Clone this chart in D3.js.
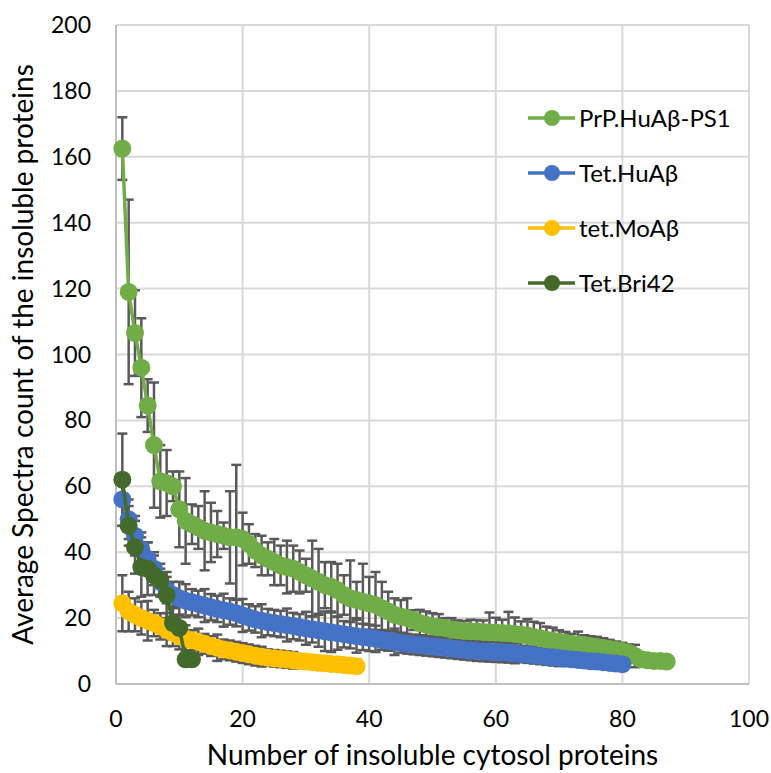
<!DOCTYPE html>
<meta charset="utf-8">
<style>
  body { margin: 0; background: #fff; }
  text { font-family: Lato, "Open Sans", sans-serif; fill: #000; }
  .tick-label { font-size: 23px; }
  .axis-title { font-size: 28px; }
  .legend-text { font-size: 24px; }
</style>
<body>
<script src="https://cdn.jsdelivr.net/npm/d3@7"></script>
<script>

// ---- data ----
var prpVals = [162.5, 119, 106.5, 96, 84.5, 72.5, 61.5, 61, 60, 53,
  49.5, 48.5, 47.5, 46.5, 46, 45.5, 45, 44.5, 44.5, 44,
  42.5, 40.5, 39, 38, 37, 36, 35.5, 35, 34, 33,
  32, 31, 30, 29.5, 28.5, 27, 26, 25.5, 25, 24.5,
  24, 23, 22, 21, 20.5, 20, 19.4, 18.5, 18, 17.5,
  17.2, 17, 16.5, 16.3, 16.1, 16, 15.9, 15.8, 15.7, 15.6,
  15.5, 15.4, 15.2, 15, 14.7, 14.3, 13.9, 13.4, 13.1, 12.8,
  12.5, 12.2, 12, 11.8, 11.5, 11.2, 10.9, 10.6, 10.3, 10,
  9.5, 8.5, 7.5, 7.2, 7, 7, 6.8];
var prpErr = [9.5, 28, 13, 15, 8, 19, 11, 10, 4.5, 11.5,
  13, 6, 6.5, 12, 9, 7, 4, 14, 22, 8,
  6, 5, 6, 5, 7, 6, 8, 7, 6.5, 5,
  11.5, 10, 7, 7.5, 8, 6, 11.5, 5.5, 11.5, 8,
  10, 8, 6, 5, 5, 6, 3, 4, 4, 4,
  4, 3, 3.5, 3, 3, 3.5, 3.5, 3.5, 6, 4.5,
  4, 6.5, 5, 4, 5, 4.6, 4.6, 4, 4, 3.5,
  3.3, 3, 3.9, 3, 3, 3.1, 3, 2.8, 2.6, 2.5,
  2.5, 3.4, 1.5, 1, 0.8, 0.8, 0.8];

var huVals = [56, 50, 45, 41, 38, 35, 31, 28.5, 27, 26,
  25.3, 24.8, 24.3, 23.8, 23.3, 22.8, 22.4, 22, 21.5, 20.8,
  20.2, 19.6, 19.2, 18.8, 18.5, 18.2, 17.9, 17.6, 17.2, 16.9,
  16.6, 16.3, 16, 15.7, 15.4, 15.1, 14.8, 14.5, 14.3, 14,
  13.7, 13.4, 13.1, 12.8, 12.5, 12.2, 12, 11.8, 11.6, 11.4,
  11.2, 11, 10.8, 10.6, 10.4, 10.2, 10, 9.9, 9.8, 9.7,
  9.6, 9.5, 9.3, 9.1, 8.9, 8.7, 8.5, 8.3, 8.1, 7.9,
  7.7, 7.5, 7.3, 7.1, 6.9, 6.8, 6.6, 6.4, 6.2, 6];
var huErr = [8, 6, 6, 5, 5, 5, 4, 4, 4, 5,
  5, 4, 4, 5, 4, 4, 5, 4, 4, 5,
  4, 4, 5, 4, 4, 4, 5, 4, 4, 5,
  4, 5, 6, 6, 5, 4, 4, 5, 4, 4,
  4, 3, 3, 4, 3, 3, 3, 3, 3, 3,
  3, 3, 3, 3, 3, 3, 3, 3, 3, 3,
  3, 3, 3, 2.5, 2.5, 2.5, 2.5, 2.5, 2.5, 2.5,
  2, 2, 2, 2, 2, 2, 2, 2, 2, 2];

var moVals = [24.5, 22, 21, 20, 19.2, 18.5, 17.5, 16.5, 15.5, 14.5,
  13.8, 13.3, 12.8, 12.2, 11.5, 11, 10.5, 10.2, 9.8, 9.4,
  9, 8.6, 8.3, 8, 7.8, 7.6, 7.4, 7.2, 7, 6.8,
  6.6, 6.4, 6.3, 6.1, 6, 5.8, 5.6, 5.4];
var moErr = [8.5, 6, 5, 5, 6, 4, 4, 5, 4, 4,
  4, 3, 4, 3, 3, 4, 3, 3, 3, 3,
  3, 3, 3, 2.5, 2.5, 2.5, 2.5, 2.5, 2, 2,
  2, 2, 2, 2, 2, 2, 2, 2];

var briVals = [62, 48, 41.5, 35.5, 35, 33, 31.5, 27, 18.5, 17, 7.5, 7.5];
var briErr = [14, 6, 8, 9, 8, 6, 5, 7, 5, 4, 1, 1];

var seriesNames = ["PrP.HuA\u03b2-PS1", "Tet.HuA\u03b2", "tet.MoA\u03b2", "Tet.Bri42"];
var seriesColors = ["#70ad47", "#4472c4", "#ffc000", "#43692b"];
var xTicks = [0, 20, 40, 60, 80, 100];
var yTicks = [0, 20, 40, 60, 80, 100, 120, 140, 160, 180, 200];

// build series table
function makeSeries(vals, errs) {
  return vals.map(function (v, i) { return { x: i + 1, y: v, e: errs[i] }; });
}
var allSeries = [
  makeSeries(prpVals, prpErr),
  makeSeries(huVals, huErr),
  makeSeries(moVals, moErr),
  makeSeries(briVals, briErr)
];

// ---- layout ----
var W = 771, H = 773;
var plot = { left: 116, right: 749, top: 25, bottom: 684 };

var x = d3.scaleLinear().domain([0, 100]).range([plot.left, plot.right]);
var y = d3.scaleLinear().domain([0, 200]).range([plot.bottom, plot.top]);

var svg = d3.select("body").append("svg")
  .attr("width", W)
  .attr("height", H);

// gridlines
svg.append("g").selectAll("line.hgrid")
  .data(yTicks)
  .enter().append("line")
  .attr("x1", plot.left).attr("x2", plot.right)
  .attr("y1", function (d) { return y(d); })
  .attr("y2", function (d) { return y(d); })
  .attr("stroke", "#d9d9d9")
  .attr("stroke-width", 2);

svg.append("g").selectAll("line.vgrid")
  .data(xTicks)
  .enter().append("line")
  .attr("y1", plot.top).attr("y2", plot.bottom)
  .attr("x1", function (d) { return x(d); })
  .attr("x2", function (d) { return x(d); })
  .attr("stroke", "#d9d9d9")
  .attr("stroke-width", 2);

// axis lines
svg.append("line")
  .attr("x1", plot.left).attr("x2", plot.right)
  .attr("y1", plot.bottom).attr("y2", plot.bottom)
  .attr("stroke", "#bfbfbf").attr("stroke-width", 2);
svg.append("line")
  .attr("x1", plot.left).attr("x2", plot.left)
  .attr("y1", plot.top).attr("y2", plot.bottom)
  .attr("stroke", "#bfbfbf").attr("stroke-width", 2);

// tick labels
svg.append("g").selectAll("text")
  .data(yTicks)
  .enter().append("text")
  .attr("class", "tick-label")
  .attr("text-anchor", "end")
  .attr("x", plot.left - 25)
  .attr("y", function (d) { return y(d) + 8; })
  .text(function (d) { return d; });

svg.append("g").selectAll("text")
  .data(xTicks)
  .enter().append("text")
  .attr("class", "tick-label")
  .attr("text-anchor", "middle")
  .attr("x", function (d) { return x(d); })
  .attr("y", plot.bottom + 43)
  .text(function (d) { return d; });

// axis titles
svg.append("text")
  .attr("class", "axis-title")
  .attr("text-anchor", "middle")
  .attr("x", (plot.left + plot.right) / 2)
  .attr("y", 765)
  .text("Number of insoluble cytosol proteins");

svg.append("text")
  .attr("class", "axis-title")
  .attr("text-anchor", "middle")
  .attr("transform", "translate(33," + ((plot.top + plot.bottom) / 2) + ") rotate(-90)")
  .text("Average Spectra count of the insoluble proteins");

// error bars (drawn under all series)
var errG = svg.append("g")
  .attr("stroke", "#595959")
  .attr("stroke-width", 2.5);
allSeries.forEach(function (s) {
  var g = errG.append("g");
  g.selectAll("line.stem").data(s).enter().append("line")
    .attr("x1", function (d) { return x(d.x); })
    .attr("x2", function (d) { return x(d.x); })
    .attr("y1", function (d) { return y(d.y + d.e); })
    .attr("y2", function (d) { return y(Math.max(0, d.y - d.e)); });
  g.selectAll("line.top").data(s).enter().append("line")
    .attr("x1", function (d) { return x(d.x) - 5; })
    .attr("x2", function (d) { return x(d.x) + 5; })
    .attr("y1", function (d) { return y(d.y + d.e); })
    .attr("y2", function (d) { return y(d.y + d.e); });
  g.selectAll("line.bot").data(s).enter().append("line")
    .attr("x1", function (d) { return x(d.x) - 5; })
    .attr("x2", function (d) { return x(d.x) + 5; })
    .attr("y1", function (d) { return y(Math.max(0, d.y - d.e)); })
    .attr("y2", function (d) { return y(Math.max(0, d.y - d.e)); });
});

// lines + markers
var line = d3.line()
  .x(function (d) { return x(d.x); })
  .y(function (d) { return y(d.y); });

allSeries.forEach(function (s, i) {
  svg.append("path")
    .datum(s)
    .attr("fill", "none")
    .attr("stroke", seriesColors[i])
    .attr("stroke-width", 3.5)
    .attr("d", line);
  svg.append("g").selectAll("circle")
    .data(s)
    .enter().append("circle")
    .attr("cx", function (d) { return x(d.x); })
    .attr("cy", function (d) { return y(d.y); })
    .attr("r", 9)
    .attr("fill", seriesColors[i]);
});

// legend
var legend = svg.append("g");
seriesNames.forEach(function (name, i) {
  var ly = 118 + i * 55;
  legend.append("line")
    .attr("x1", 528).attr("x2", 575)
    .attr("y1", ly).attr("y2", ly)
    .attr("stroke", seriesColors[i])
    .attr("stroke-width", 3.5);
  legend.append("circle")
    .attr("cx", 552).attr("cy", ly).attr("r", 8)
    .attr("fill", seriesColors[i]);
  legend.append("text")
    .attr("class", "legend-text")
    .attr("x", 579)
    .attr("y", ly + 9)
    .text(name);
});

</script>
</body>
